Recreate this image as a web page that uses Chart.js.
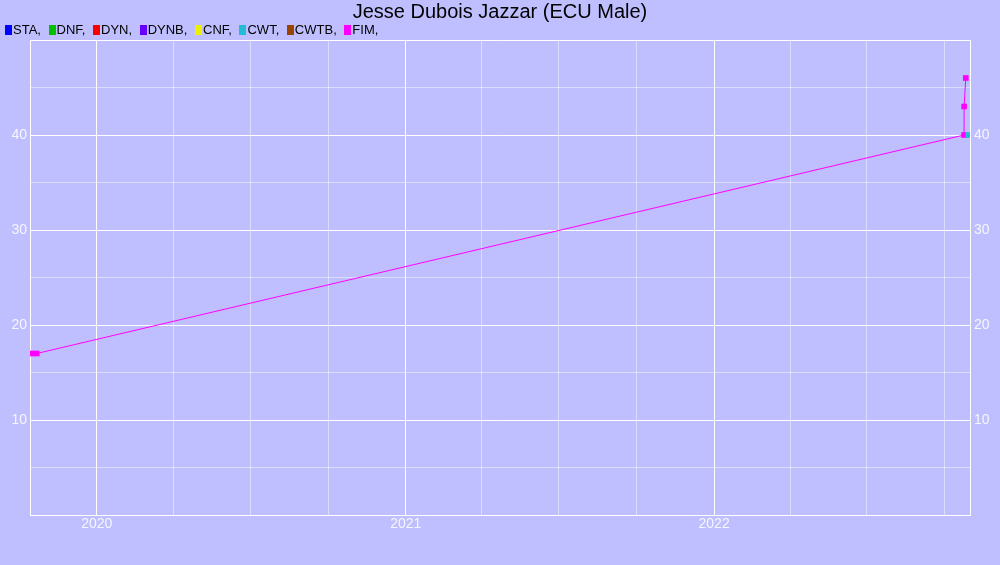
<!DOCTYPE html>
<html>
<head>
<meta charset="utf-8">
<script src="https://cdn.jsdelivr.net/npm/chart.js@4/dist/chart.umd.min.js"></script>
<style>
  html, body { margin: 0; padding: 0; background: #bfbfff; }
  #wrap { position: relative; width: 1000px; height: 565px; font-family: "Liberation Sans", Arial, sans-serif; }
  #title { position: absolute; top: 0px; left: 0; width: 1000px; text-align: center; font-size: 20px; color: #000; }
  #legend { position: absolute; top: 22px; left: 5px; font-size: 13px; color: #000; white-space: nowrap; }
  #legend span.item { display: inline-block; margin-right: 7.6px; }
  #legend i { display: inline-block; width: 7px; height: 10px; margin-right: 1px; vertical-align: -1px; }
</style>
</head>
<body>
<div id="wrap">
  <canvas id="chart" width="1000" height="565"></canvas>
  <div id="title">Jesse Dubois Jazzar (ECU Male)</div>
  <div id="legend"></div>
</div>
<script>
// series names and colours, same order as the legend
const seriesNames = ['STA', 'DNF', 'DYN', 'DYNB', 'CNF', 'CWT', 'CWTB', 'FIM'];
const seriesColors = ['#0000ff', '#00c000', '#ff0000', '#6600ff', '#eeee00', '#22bcd4', '#994400', '#ff00ff'];

// results (date, value) - only CWT and FIM have entries
const cwtDates = ['2022-10-29'];
const cwtValues = [40];
const fimDates = ['2019-10-16', '2019-10-22', '2022-10-24', '2022-10-24', '2022-10-26'];
const fimValues = [17, 17, 40, 43, 46];

const xMinDate = '2019-10-14';
const xMaxDate = '2022-10-31';
const yMin = 0, yMax = 50;

function toPoints(dates, values) {
    return dates.map((d, i) => ({ x: Date.parse(d), y: values[i] }));
}

const seriesData = {
    CWT: toPoints(cwtDates, cwtValues),
    FIM: toPoints(fimDates, fimValues)
};

// html legend, like the original "■STA, ■DNF, ..."
const legendEl = document.getElementById('legend');
seriesNames.forEach((name, i) => {
    const s = document.createElement('span');
    s.className = 'item';
    s.innerHTML = '<i style="background:' + seriesColors[i] + '"></i>' + name + ',';
    legendEl.appendChild(s);
});

const datasets = seriesNames.map((name, i) => ({
    label: name,
    data: seriesData[name] || [],
    borderColor: seriesColors[i],
    backgroundColor: seriesColors[i],
    borderWidth: 1,
    pointStyle: 'rect',
    pointRadius: 4,
    pointHoverRadius: 4,
    pointBorderWidth: 0,
    tension: 0
}));

function quarterTicks(scale) {
    const ticks = [];
    for (let y = 2019; y <= 2023; y++) {
        for (let m = 0; m < 12; m += 3) {
            const t = Date.UTC(y, m, 1);
            if (t >= scale.min && t <= scale.max) ticks.push({ value: t });
        }
    }
    scale.ticks = ticks;
}

const tickColor = '#f6f6ff';
const tickFont = { family: 'Liberation Sans', size: 14 };
const majorGrid = '#ffffff';
const minorGrid = 'rgba(255,255,255,0.45)';
const yLabel = v => (v % 10 === 0 && v > yMin && v < yMax) ? v : '';

new Chart(document.getElementById('chart'), {
    type: 'line',
    data: { datasets: datasets },
    options: {
        responsive: false,
        animation: false,
        layout: { padding: { top: 40, left: 0, right: 0, bottom: 0 } },
        plugins: {
            legend: { display: false },
            title: { display: false },
            tooltip: { enabled: false }
        },
        scales: {
            x: {
                type: 'linear',
                min: Date.parse(xMinDate),
                max: Date.parse(xMaxDate),
                afterBuildTicks: quarterTicks,
                afterFit: s => { s.height = 50; },
                border: { color: majorGrid },
                grid: {
                    drawTicks: false,
                    color: ctx => new Date(ctx.tick.value).getUTCMonth() === 0 ? majorGrid : minorGrid
                },
                ticks: {
                    autoSkip: false,
                    maxRotation: 0,
                    padding: 1,
                    color: tickColor,
                    font: tickFont,
                    callback: v => {
                        const d = new Date(v);
                        return d.getUTCMonth() === 0 ? String(d.getUTCFullYear()) : '';
                    }
                }
            },
            y: {
                position: 'left',
                min: yMin,
                max: yMax,
                afterFit: s => { s.width = 30; },
                border: { color: majorGrid },
                grid: {
                    drawTicks: false,
                    color: ctx => ctx.tick.value % 10 === 0 ? majorGrid : minorGrid
                },
                ticks: { stepSize: 5, padding: 3, color: tickColor, font: tickFont, callback: yLabel }
            },
            y2: {
                position: 'right',
                min: yMin,
                max: yMax,
                afterFit: s => { s.width = 30; },
                border: { color: majorGrid },
                grid: { display: false, drawTicks: false, tickLength: 0 },
                ticks: { stepSize: 5, padding: 4, color: tickColor, font: tickFont, callback: yLabel }
            }
        }
    }
});
</script>
</body>
</html>
